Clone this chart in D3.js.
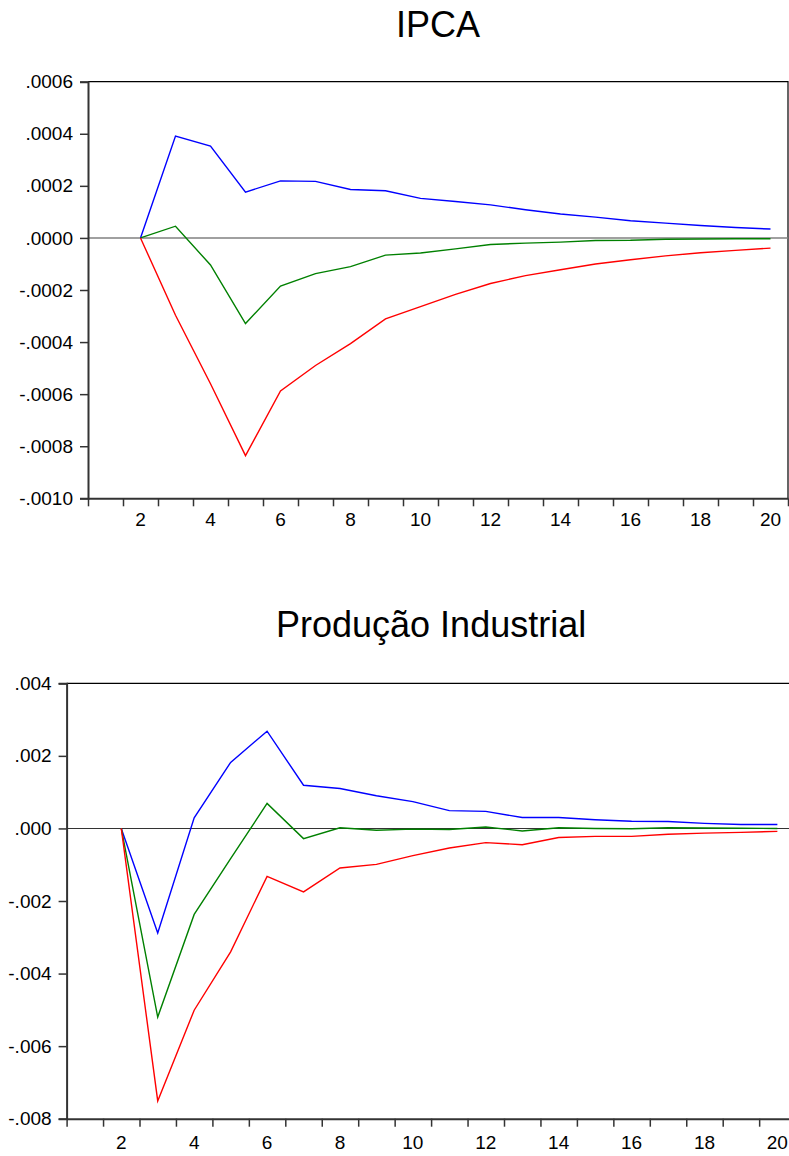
<!DOCTYPE html>
<html>
<head>
<meta charset="utf-8">
<script src="https://cdn.jsdelivr.net/npm/d3@7"></script>
<style>
  html, body { margin: 0; padding: 0; background: #fff; }
  svg { display: block; }
  text { font-family: "Liberation Sans", Arial, sans-serif; fill: #000; }
</style>
</head>
<body>
<script>
// Impulse-response periods (responses shown from period 2 onwards)
const periods = [2, 3, 4, 5, 6, 7, 8, 9, 10, 11, 12, 13, 14, 15, 16, 17, 18, 19, 20];
const xTickLabels = [2, 4, 6, 8, 10, 12, 14, 16, 18, 20];

// IPCA response: upper band, point estimate, lower band
const ipcaUpper = [0, 0.000391, 0.000353, 0.000176, 0.000219, 0.000217, 0.000186, 0.000181, 0.000152, 0.000140,
  0.000127, 0.000108, 0.000092, 0.000080, 0.000066, 0.000057, 0.000048, 0.000040, 0.000034];
const ipcaMid = [0, 0.000045, -0.000104, -0.000329, -0.000185, -0.000137, -0.000110, -0.000066, -0.000058, -0.000042,
  -0.000025, -0.000020, -0.000016, -0.000010, -0.000009, -0.000005, -0.000004, -0.000003, -0.000003];
const ipcaLower = [0, -0.000297, -0.000560, -0.000836, -0.000588, -0.000490, -0.000406, -0.000311, -0.000264, -0.000217,
  -0.000175, -0.000145, -0.000122, -0.000100, -0.000084, -0.000069, -0.000057, -0.000048, -0.000039];
const ipcaYTicks = [0.0006, 0.0004, 0.0002, 0, -0.0002, -0.0004, -0.0006, -0.0008, -0.0010];
const ipcaYLabels = [".0006", ".0004", ".0002", ".0000", "-.0002", "-.0004", "-.0006", "-.0008", "-.0010"];

// Produção Industrial response: upper band, point estimate, lower band
const prodUpper = [0, -0.00288, 0.00029, 0.00182, 0.00268, 0.00119, 0.00110, 0.00090, 0.00074, 0.00049,
  0.00047, 0.00030, 0.00030, 0.00024, 0.00020, 0.00019, 0.00014, 0.00011, 0.00011];
const prodMid = [0, -0.00520, -0.00237, -0.00083, 0.00069, -0.00028, 0.00002, -0.00005, -0.00002, -0.00003,
  0.00004, -0.00007, 0.00002, 0.00000, -0.00001, 0.00002, 0.00001, 0.000005, 0];
const prodLower = [0, -0.00751, -0.00501, -0.00340, -0.00132, -0.00175, -0.00109, -0.00099, -0.00075, -0.00054,
  -0.00039, -0.00045, -0.00025, -0.00022, -0.00022, -0.00016, -0.00013, -0.00011, -0.00008];
const prodYTicks = [0.004, 0.002, 0, -0.002, -0.004, -0.006, -0.008];
const prodYLabels = [".004", ".002", ".000", "-.002", "-.004", "-.006", "-.008"];

const seriesColors = ["#0000ff", "#008000", "#ff0000"];

const W = 789, H = 1156;
const svg = d3.select("body").append("svg").attr("width", W).attr("height", H);

function drawPanel(cfg) {
  const g = svg.append("g");
  const x = d3.scaleLinear().domain([0.5, 20.5]).range([cfg.left, cfg.right]);
  const y = d3.scaleLinear().domain([cfg.yMin, cfg.yMax]).range([cfg.bottom, cfg.top]);

  // title
  g.append("text")
    .attr("x", (cfg.left + cfg.right) / 2)
    .attr("y", cfg.titleY)
    .attr("text-anchor", "middle")
    .style("font-size", "36px")
    .text(cfg.title);

  // frame: top and right borders
  g.append("path")
    .attr("d", `M${cfg.left},${cfg.top}H${cfg.right}V${cfg.bottom}`)
    .attr("fill", "none").attr("stroke", "#000").attr("stroke-width", 1.2);

  // zero reference line
  g.append("line")
    .attr("x1", cfg.left).attr("x2", cfg.right)
    .attr("y1", y(0)).attr("y2", y(0))
    .attr("stroke", cfg.zeroColor).attr("stroke-width", cfg.zeroWidth);

  // y axis
  const yAxis = d3.axisLeft(y)
    .tickValues(cfg.yTicks)
    .tickFormat((d, i) => cfg.yLabels[i])
    .tickSize(8).tickPadding(7);
  const ya = g.append("g").attr("transform", `translate(${cfg.left},0)`).call(yAxis);
  ya.select(".domain").attr("stroke", "#333").attr("stroke-width", 2);
  ya.selectAll(".tick line").attr("stroke", "#333").attr("stroke-width", 1.5);
  ya.selectAll(".tick text").style("font-size", "19px").attr("font-family", null).attr("fill", "#000");

  // x axis: tick marks on period boundaries, labels at even period centres
  const edges = d3.range(0, 21).map(k => k + 0.5);
  const xAxis = d3.axisBottom(x).tickValues(edges).tickFormat("").tickSize(8).tickSizeOuter(0);
  const xa = g.append("g").attr("transform", `translate(0,${cfg.bottom})`).call(xAxis);
  xa.select(".domain").attr("stroke", "#333").attr("stroke-width", 2);
  xa.selectAll(".tick line").attr("stroke", "#333").attr("stroke-width", 1.5);

  g.append("g").selectAll("text")
    .data(xTickLabels)
    .join("text")
    .attr("x", d => x(d))
    .attr("y", cfg.bottom + cfg.xLabelOffset)
    .attr("text-anchor", "middle")
    .style("font-size", "19px")
    .text(d => d);

  // response lines
  const line = d3.line().x((d, i) => x(periods[i])).y(d => y(d));
  cfg.series.forEach((s, i) => {
    g.append("path")
      .datum(s)
      .attr("d", line)
      .attr("fill", "none")
      .attr("stroke", seriesColors[i])
      .attr("stroke-width", 1.4)
      .attr("stroke-linejoin", "miter");
  });
}

drawPanel({
  title: "IPCA", titleY: 37,
  left: 88, right: 788, top: 81.7, bottom: 498.3,
  yMin: -0.0010, yMax: 0.0006,
  yTicks: ipcaYTicks, yLabels: ipcaYLabels,
  zeroColor: "#808080", zeroWidth: 1.6,
  xLabelOffset: 27.5,
  series: [ipcaUpper, ipcaMid, ipcaLower]
});

drawPanel({
  title: "Produção Industrial", titleY: 637,
  left: 66.6, right: 795.6, top: 683.3, bottom: 1118.7,
  yMin: -0.008, yMax: 0.004,
  yTicks: prodYTicks, yLabels: prodYLabels,
  zeroColor: "#333", zeroWidth: 1.1,
  xLabelOffset: 30,
  series: [prodUpper, prodMid, prodLower]
});
</script>
</body>
</html>
